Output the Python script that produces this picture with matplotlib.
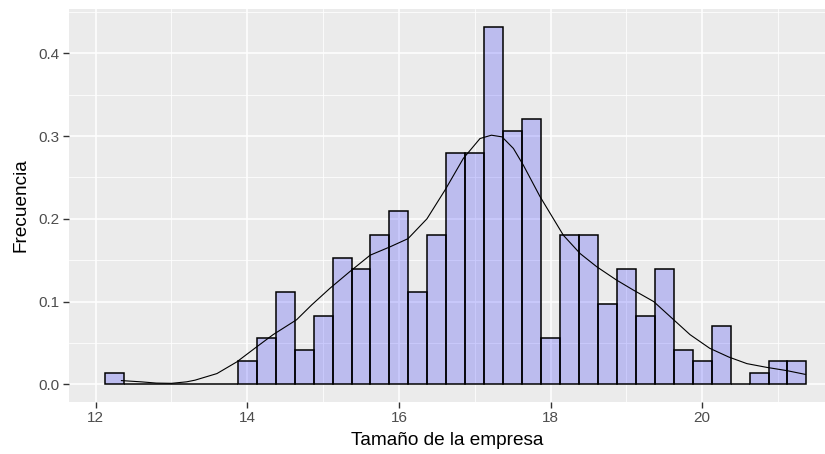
#histogram of company size with a density curve on top, ggplot-like look

import matplotlib
matplotlib.use('Agg')
import matplotlib.pyplot as plt
import numpy as np

# bin centers (binwidth 0.25) and bar heights (density)
bin_centers = [12.25, 12.50, 12.75, 13.00, 13.25, 13.50, 13.75, 14.00, 14.25, 14.50,
               14.75, 15.00, 15.25, 15.50, 15.75, 16.00, 16.25, 16.50, 16.75, 17.00,
               17.25, 17.50, 17.75, 18.00, 18.25, 18.50, 18.75, 19.00, 19.25, 19.50,
               19.75, 20.00, 20.25, 20.50, 20.75, 21.00, 21.25]
bin_density = [0.014, 0.0, 0.0, 0.0, 0.0, 0.0, 0.0, 0.028, 0.056, 0.111,
               0.042, 0.083, 0.153, 0.139, 0.181, 0.209, 0.111, 0.181, 0.279, 0.279,
               0.432, 0.306, 0.320, 0.056, 0.181, 0.181, 0.097, 0.139, 0.083, 0.139,
               0.042, 0.028, 0.070, 0.0, 0.014, 0.028, 0.028]
bin_width = 0.25

# density curve points
curve_x = [12.34, 12.60, 12.80, 13.00, 13.20, 13.31, 13.60, 13.86, 14.12, 14.34,
           14.65, 14.85, 15.09, 15.35, 15.62, 15.88, 16.12, 16.37, 16.61, 16.85,
           17.07, 17.22, 17.36, 17.51, 17.64, 17.86, 18.17, 18.39, 18.61, 18.87,
           19.09, 19.36, 19.60, 19.84, 20.10, 20.35, 20.59, 20.85, 21.12, 21.36]
curve_y = [0.0045, 0.003, 0.0015, 0.0012, 0.003, 0.005, 0.013, 0.027, 0.045, 0.060,
           0.078, 0.096, 0.116, 0.136, 0.156, 0.166, 0.176, 0.200, 0.235, 0.273,
           0.297, 0.301, 0.299, 0.285, 0.265, 0.227, 0.180, 0.158, 0.142, 0.126,
           0.114, 0.100, 0.080, 0.060, 0.0435, 0.033, 0.025, 0.0205, 0.0165, 0.012]

x_ticks = [12, 14, 16, 18, 20]
y_ticks = [0.0, 0.1, 0.2, 0.3, 0.4]


def create_plot():
    plt.rcParams['font.family'] = ['Liberation Sans', 'DejaVu Sans']
    fig = plt.figure(figsize=(8.25, 4.54), dpi=100)
    ax = fig.add_axes([0.0836, 0.1152, 0.9164, 0.865])

    # ggplot grey panel with white grid
    ax.set_facecolor('#EBEBEB')
    for s in ax.spines.values():
        s.set_visible(False)
    ax.set_axisbelow(True)
    ax.grid(True, which='major', color='white', linewidth=1.1)
    ax.grid(True, which='minor', color='white', linewidth=0.55)

    # histogram bars (empty bins still get a zero-height outline)
    ax.bar(bin_centers, bin_density, width=bin_width, align='center',
           facecolor=(0, 0, 1, 0.2), edgecolor='black', linewidth=1.1)

    # density curve
    ax.plot(curve_x, curve_y, color='black', linewidth=0.8)

    ax.set_xlim(11.648, 21.62)
    ax.set_ylim(-0.021, 0.4535)
    ax.set_xticks(x_ticks)
    ax.set_xticks([13, 15, 17, 19, 21], minor=True)
    ax.set_yticks(y_ticks)
    ax.set_yticks([0.05, 0.15, 0.25, 0.35, 0.45], minor=True)
    ax.set_yticklabels(['%.1f' % v for v in y_ticks])
    ax.tick_params(which='major', length=4, width=1.0, color='#333333',
                   labelsize=11, labelcolor='#4D4D4D', pad=3)
    ax.tick_params(which='minor', length=0)

    ax.set_xlabel('Tamaño de la empresa', fontsize=13.7, labelpad=5)
    ax.set_ylabel('Frecuencia', fontsize=13.7, labelpad=6)

    plt.savefig('out.png', dpi=100)


create_plot()
